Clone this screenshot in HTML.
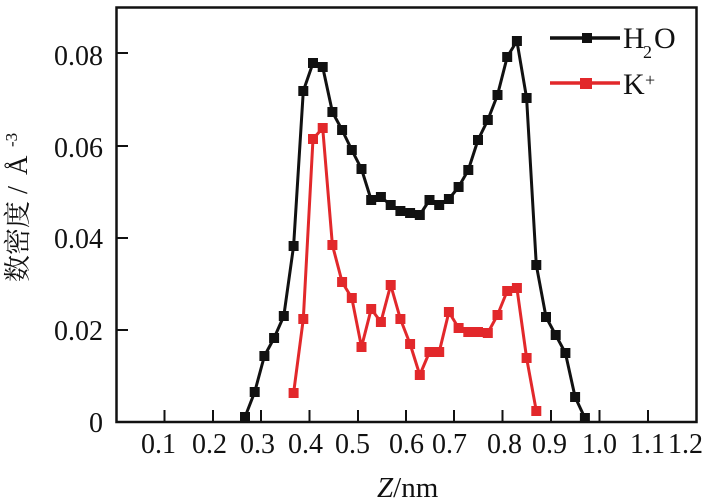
<!DOCTYPE html>
<html><head><meta charset="utf-8">
<style>
html,body{margin:0;padding:0;background:#fff;}
svg{display:block;}
</style></head>
<body>
<svg width="709" height="501" viewBox="0 0 709 501" xmlns="http://www.w3.org/2000/svg" font-family="'Liberation Serif','Noto Serif CJK SC',serif" fill="#111">
<rect x="0" y="0" width="709" height="501" fill="#fff"/>
<!-- frame -->
<rect x="116.5" y="7.5" width="580" height="414.5" fill="none" stroke="#111" stroke-width="2.5"/>
<!-- y ticks -->
<g stroke="#111" stroke-width="2">
<line x1="116" y1="53" x2="128" y2="53"/>
<line x1="116" y1="146" x2="128" y2="146"/>
<line x1="116" y1="238" x2="128" y2="238"/>
<line x1="116" y1="330" x2="128" y2="330"/>
</g>
<!-- x ticks -->
<g stroke="#111" stroke-width="2">
<line x1="164.5" y1="410" x2="164.5" y2="422"/>
<line x1="213" y1="410" x2="213" y2="422"/>
<line x1="261" y1="410" x2="261" y2="422"/>
<line x1="309.5" y1="410" x2="309.5" y2="422"/>
<line x1="358" y1="410" x2="358" y2="422"/>
<line x1="406" y1="410" x2="406" y2="422"/>
<line x1="454" y1="410" x2="454" y2="422"/>
<line x1="502.5" y1="410" x2="502.5" y2="422"/>
<line x1="551" y1="410" x2="551" y2="422"/>
<line x1="599.5" y1="410" x2="599.5" y2="422"/>
<line x1="648" y1="410" x2="648" y2="422"/>
</g>
<!-- y labels -->
<g font-size="28" text-anchor="end">
<text x="103" y="65">0.08</text>
<text x="103" y="157">0.06</text>
<text x="103" y="248">0.04</text>
<text x="103" y="340">0.02</text>
<text x="103" y="432">0</text>
</g>
<!-- x labels -->
<g font-size="28">
<text x="141" y="453">0.1</text>
<text x="192" y="453">0.2</text>
<text x="240" y="453">0.3</text>
<text x="288" y="453">0.4</text>
<text x="335" y="453">0.5</text>
<text x="389" y="453">0.6</text>
<text x="432" y="453">0.7</text>
<text x="487" y="453">0.8</text>
<text x="532" y="453">0.9</text>
<text x="582" y="453">1.0</text>
<text x="630" y="453">1.1</text>
<text x="668" y="453">1.2</text>
</g>
<!-- x title -->
<text x="377" y="497" font-size="29"><tspan font-style="italic">Z</tspan>/nm</text>
<!-- y title -->
<g transform="translate(27,282) rotate(-90)">
<text font-size="27" font-family="'Liberation Serif','Noto Serif CJK SC',serif"><tspan x="0" y="0">数密度</tspan><tspan x="88" y="0" font-size="29">/</tspan><tspan x="107" y="0">Å</tspan><tspan x="135" y="-10" font-size="17">-3</tspan></text>
</g>
<!-- H2O series -->
<polyline fill="none" stroke="#111" stroke-width="3" stroke-linejoin="round" points="245,417 254.7,392 264.4,356 274.1,338 283.8,316 293.6,246 303.3,91 313,63 322.7,67 332.4,112 342.1,130 351.8,150 361.5,169 371.2,200 380.9,197 390.7,205 400.4,211 410.1,213 419.8,215 429.5,200 439.2,205 448.9,199 458.6,187 468.3,170 478,140 487.8,120 497.5,95 507.2,57 516.9,41 526.6,98 536.3,265 546,317 555.7,335 565.4,353 575.1,397 584.9,418"/>
<g fill="#111">
<rect x="240" y="412" width="10" height="10"/>
<rect x="249.7" y="387" width="10" height="10"/>
<rect x="259.4" y="351" width="10" height="10"/>
<rect x="269.1" y="333" width="10" height="10"/>
<rect x="278.8" y="311" width="10" height="10"/>
<rect x="288.6" y="241" width="10" height="10"/>
<rect x="298.3" y="86" width="10" height="10"/>
<rect x="308" y="58" width="10" height="10"/>
<rect x="317.7" y="62" width="10" height="10"/>
<rect x="327.4" y="107" width="10" height="10"/>
<rect x="337.1" y="125" width="10" height="10"/>
<rect x="346.8" y="145" width="10" height="10"/>
<rect x="356.5" y="164" width="10" height="10"/>
<rect x="366.2" y="195" width="10" height="10"/>
<rect x="375.9" y="192" width="10" height="10"/>
<rect x="385.7" y="200" width="10" height="10"/>
<rect x="395.4" y="206" width="10" height="10"/>
<rect x="405.1" y="208" width="10" height="10"/>
<rect x="414.8" y="210" width="10" height="10"/>
<rect x="424.5" y="195" width="10" height="10"/>
<rect x="434.2" y="200" width="10" height="10"/>
<rect x="443.9" y="194" width="10" height="10"/>
<rect x="453.6" y="182" width="10" height="10"/>
<rect x="463.3" y="165" width="10" height="10"/>
<rect x="473" y="135" width="10" height="10"/>
<rect x="482.8" y="115" width="10" height="10"/>
<rect x="492.5" y="90" width="10" height="10"/>
<rect x="502.2" y="52" width="10" height="10"/>
<rect x="511.9" y="36" width="10" height="10"/>
<rect x="521.6" y="93" width="10" height="10"/>
<rect x="531.3" y="260" width="10" height="10"/>
<rect x="541" y="312" width="10" height="10"/>
<rect x="550.7" y="330" width="10" height="10"/>
<rect x="560.4" y="348" width="10" height="10"/>
<rect x="570.1" y="392" width="10" height="10"/>
<rect x="579.9" y="413" width="10" height="10"/>
</g>
<!-- K+ series -->
<polyline fill="none" stroke="#e2282b" stroke-width="3" stroke-linejoin="round" points="293.6,393 303.3,319 313,139 322.7,128 332.4,245 342.1,282 351.8,298 361.5,347 371.2,309 380.9,322 390.7,285 400.4,319 410.1,344 419.8,375 429.5,352 439.2,352 448.9,312 458.6,328 468.3,332 478,332 487.8,333 497.5,315 507.2,291 516.9,288 526.6,358 536.3,411"/>
<g fill="#e2282b">
<rect x="288.6" y="388" width="10" height="10"/>
<rect x="298.3" y="314" width="10" height="10"/>
<rect x="308" y="134" width="10" height="10"/>
<rect x="317.7" y="123" width="10" height="10"/>
<rect x="327.4" y="240" width="10" height="10"/>
<rect x="337.1" y="277" width="10" height="10"/>
<rect x="346.8" y="293" width="10" height="10"/>
<rect x="356.5" y="342" width="10" height="10"/>
<rect x="366.2" y="304" width="10" height="10"/>
<rect x="375.9" y="317" width="10" height="10"/>
<rect x="385.7" y="280" width="10" height="10"/>
<rect x="395.4" y="314" width="10" height="10"/>
<rect x="405.1" y="339" width="10" height="10"/>
<rect x="414.8" y="370" width="10" height="10"/>
<rect x="424.5" y="347" width="10" height="10"/>
<rect x="434.2" y="347" width="10" height="10"/>
<rect x="443.9" y="307" width="10" height="10"/>
<rect x="453.6" y="323" width="10" height="10"/>
<rect x="463.3" y="327" width="10" height="10"/>
<rect x="473" y="327" width="10" height="10"/>
<rect x="482.8" y="328" width="10" height="10"/>
<rect x="492.5" y="310" width="10" height="10"/>
<rect x="502.2" y="286" width="10" height="10"/>
<rect x="511.9" y="283" width="10" height="10"/>
<rect x="521.6" y="353" width="10" height="10"/>
<rect x="531.3" y="406" width="10" height="10"/>
</g>
<!-- legend -->
<line x1="550" y1="38" x2="620" y2="38" stroke="#111" stroke-width="3.5"/>
<rect x="582" y="33" width="10" height="10" fill="#111"/>
<text x="623" y="48" font-size="30">H</text>
<text x="643" y="58" font-size="18">2</text>
<text x="654" y="48" font-size="30">O</text>
<line x1="550" y1="83" x2="620" y2="83" stroke="#e2282b" stroke-width="3.5"/>
<rect x="580" y="78" width="12" height="11" fill="#e2282b"/>
<text x="623" y="94" font-size="30">K</text>
<text x="645" y="86" font-size="18">+</text>
</svg>
</body></html>
